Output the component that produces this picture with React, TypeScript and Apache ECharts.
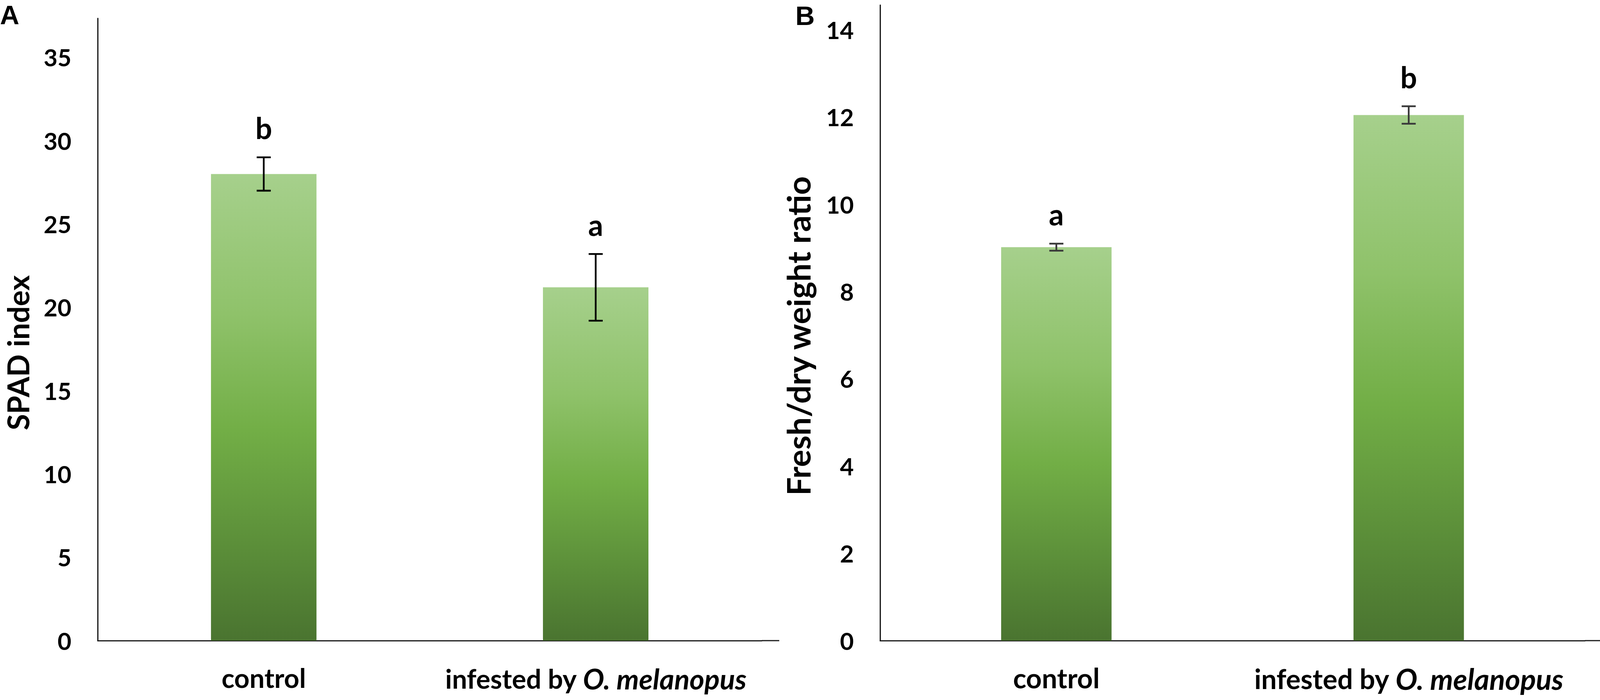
import React, { useEffect, useRef } from "react";
import * as echarts from "echarts";

// ---- data ----
const categories = ["control", "infested by O. melanopus"];
const spadMean = [28.0, 21.2];
const spadErr = [1.0, 2.0];
const spadLetters = ["b", "a"];
const ratioMean = [9.02, 12.05];
const ratioErr = [0.08, 0.2];
const ratioLetters = ["a", "b"];
const spadTicks = [0, 5, 10, 15, 20, 25, 30, 35];
const ratioTicks = [0, 2, 4, 6, 8, 10, 12, 14];

const FONT = "Lato";
const REF_W = 4550;
const REF_H = 1792;

function barGradient() {
  return new echarts.graphic.LinearGradient(0, 0, 0, 1, [
    { offset: 0, color: "#a6d08c" },
    { offset: 0.3, color: "#8fc26a" },
    { offset: 0.55, color: "#72ae46" },
    { offset: 0.8, color: "#5b8e39" },
    { offset: 1, color: "#4a7430" },
  ]);
}

export default function App() {
  const ref = useRef<HTMLDivElement>(null);
  useEffect(() => {
    document.body.style.margin = "0";
    document.body.style.overflow = "hidden";
    const el = ref.current;
    if (!el) return;
    const W = el.clientWidth || REF_W;
    const H = el.clientHeight || REF_H;
    const sx = W / REF_W;
    const sy = H / REF_H;
    const k = Math.min(sx, sy);
    const X = (v: number) => v * sx;
    const Y = (v: number) => v * sy;

    const chart = echarts.init(el, undefined, { renderer: "svg", width: W, height: H });

    const errSeries = (
      idx: number,
      means: number[],
      errs: number[],
      letters: string[],
      stroke: string
    ) => ({
      type: "custom",
      xAxisIndex: idx,
      yAxisIndex: idx,
      z: 10,
      data: means.map((m, i) => [i, m, errs[i]]),
      renderItem: (params: any, api: any) => {
        const x = api.value(0);
        const m = api.value(1);
        const e = api.value(2);
        const top = api.coord([x, m + e]);
        const bot = api.coord([x, m - e]);
        const half = 20 * sx;
        const st = { stroke, lineWidth: 5 * k };
        return {
          type: "group",
          children: [
            { type: "line", shape: { x1: top[0], y1: top[1], x2: bot[0], y2: bot[1] }, style: st },
            { type: "line", shape: { x1: top[0] - half, y1: top[1], x2: top[0] + half, y2: top[1] }, style: st },
            { type: "line", shape: { x1: bot[0] - half, y1: bot[1], x2: bot[0] + half, y2: bot[1] }, style: st },
            {
              type: "text",
              style: {
                text: letters[params.dataIndex],
                x: top[0],
                y: top[1] - 76 * sy,
                align: "center",
                verticalAlign: "middle",
                fill: "#000",
                fontFamily: FONT,
                fontWeight: "bold",
                fontSize: 84 * k,
              },
            },
          ],
        };
      },
    });

    const catAxis = (gridIndex: number, fs: number) => {
      const base = { fontFamily: FONT, fontWeight: "bold", fontSize: fs * k, color: "#000" };
      return {
        type: "category",
        gridIndex,
        data: categories,
        axisLine: { show: true, lineStyle: { color: "#1a1a1a", width: 3.5 * k } },
        axisTick: { show: false },
        axisLabel: {
          interval: 0,
          margin: 60 * sy,
          formatter: (v: string) => {
            const p = v.indexOf("O. melanopus");
            if (p >= 0) return "{n|" + v.slice(0, p) + "}{i|O. melanopus}";
            return "{n|" + v + "}";
          },
          rich: {
            n: { ...base },
            i: { ...base, fontStyle: "italic", fontSize: fs * k * 1.06 },
          },
        },
      };
    };

    const valAxis = (gridIndex: number, max: number, interval: number, ticks: number[]) => ({
      type: "value",
      gridIndex,
      min: 0,
      max,
      interval,
      splitLine: { show: false },
      axisTick: { show: false },
      axisLine: { show: true, lineStyle: { color: "#1a1a1a", width: 3.5 * k } },
      axisLabel: {
        margin: 75 * sx,
        fontFamily: FONT,
        fontWeight: "bold",
        fontSize: 68 * k,
        color: "#000",
        formatter: (v: number) => (ticks.indexOf(v) >= 0 ? String(v) : ""),
      },
    });

    const titleStyle = (fs: number) => ({
      fill: "#000",
      fontFamily: FONT,
      fontWeight: "bold",
      fontSize: fs * k,
      align: "center",
      verticalAlign: "middle",
    });
    const panelStyle = {
      fill: "#000",
      fontFamily: "Liberation Sans",
      fontWeight: "bold",
      fontSize: 76 * k,
      align: "left",
      verticalAlign: "middle",
    };

    chart.setOption({
      animation: false,
      backgroundColor: "#ffffff",
      grid: [
        { left: X(278), top: Y(47), width: X(1888), bottom: Y(152) },
        { left: X(2503), top: Y(13), width: X(2004), bottom: Y(152) },
      ],
      xAxis: [catAxis(0, 76), catAxis(1, 78)],
      yAxis: [valAxis(0, 37.34, 5, spadTicks), valAxis(1, 14.57, 2, ratioTicks)],
      series: [
        {
          type: "bar",
          xAxisIndex: 0,
          yAxisIndex: 0,
          barWidth: X(300),
          data: spadMean,
          itemStyle: { color: barGradient() },
        },
        errSeries(0, spadMean, spadErr, spadLetters, "#000000"),
        {
          type: "bar",
          xAxisIndex: 1,
          yAxisIndex: 1,
          barWidth: X(314),
          data: ratioMean,
          itemStyle: { color: barGradient() },
        },
        errSeries(1, ratioMean, ratioErr, ratioLetters, "#3a3a3a"),
      ],
      graphic: [
        { type: "text", x: X(0), y: Y(38), style: { ...panelStyle, text: "A" } },
        { type: "text", x: X(2262), y: Y(40), style: { ...panelStyle, text: "B" } },
        { type: "text", x: X(51), y: Y(903), rotation: Math.PI / 2, style: { ...titleStyle(84), text: "SPAD index" } },
        { type: "text", x: X(2270), y: Y(860), rotation: Math.PI / 2, style: { ...titleStyle(92), text: "Fresh/dry weight ratio" } },
        { type: "line", shape: { x1: X(2166), y1: Y(1640), x2: X(2216), y2: Y(1640) }, style: { stroke: "#1a1a1a", lineWidth: 3.5 * k } },
        { type: "line", shape: { x1: X(4507), y1: Y(1640), x2: W, y2: Y(1640) }, style: { stroke: "#1a1a1a", lineWidth: 3.5 * k } },
      ],
    });
    return () => chart.dispose();
  }, []);
  return <div ref={ref} style={{ width: "100vw", height: "100vh", overflow: "hidden" }} />;
}
